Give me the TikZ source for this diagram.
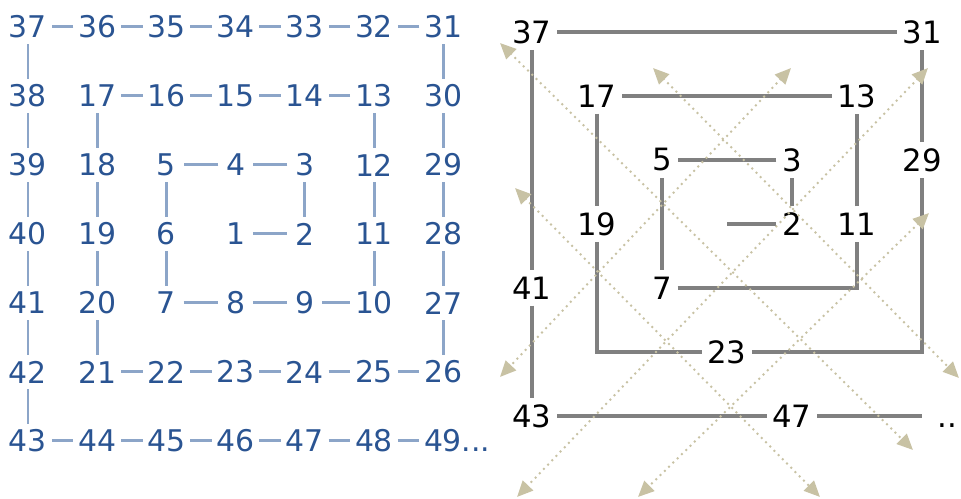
\documentclass[tikz,border=0pt]{standalone}
\usepackage{fontspec}
\setmainfont{DejaVu Sans}
\usetikzlibrary{arrows.meta}
\definecolor{SpiralBlue}{RGB}{42,84,146}
\definecolor{LinkBlue}{RGB}{140,165,200}
\definecolor{PathGray}{RGB}{128,128,128}
\definecolor{DiagTan}{RGB}{200,194,164}

\begin{document}
\begin{tikzpicture}[x=0.02cm,y=-0.02cm,
num/.style={text=SpiralBlue,inner xsep=0.09cm,inner ysep=0.06cm,minimum width=0.68cm,minimum height=0.68cm,font=\fontsize{17}{20}\selectfont},
link/.style={draw=LinkBlue,line width=0.06cm},
prime/.style={inner xsep=0.11cm,inner ysep=0.12cm,font=\fontsize{17.5}{20}\selectfont},
spir/.style={draw=PathGray,line width=0.065cm},
diag/.style={{Triangle[length=0.32cm,width=0.28cm]}-{Triangle[length=0.32cm,width=0.28cm]},draw=DiagTan,line width=0.055cm,line cap=round,dash pattern=on 0pt off 0.12cm}
]
\useasboundingbox (0,0) rectangle (961,499);
% numbers on the spiral
\foreach \row [count=\r from 0] in {{37,36,35,34,33,32,31},{38,17,16,15,14,13,30},{39,18,5,4,3,12,29},{40,19,6,1,2,11,28},{41,20,7,8,9,10,27},{42,21,22,23,24,25,26},{43,44,45,46,47,48}}
  \foreach \n [count=\c from 0] in \row
    \node[num] (l\n) at ({28+69.2*\c},{27+69*\r}) {\n};
\node[num] (l49) at (443,441) {49\rlap{...}};
\foreach \i [evaluate=\i as \j using int(\i+1)] in {1,...,48}
  \draw[link] (l\i) -- (l\j);
% primes only
\foreach \n/\c/\r in {2/4/3,3/4/2,5/2/2,7/2/4,11/5/3,13/5/1,17/1/1,19/1/3,23/3/5,29/6/2,31/6/0,37/0/0,41/0/4,43/0/6,47/4/6}
  \node[prime] (p\n) at ({532+65*\c},{32+64*\r}) {\n};
\coordinate (s) at (727,224);
\coordinate (c10) at (857,288);
\coordinate (c21) at (597,352);
\coordinate (c26) at (922,352);
\coordinate (c49) at (922,416);
\node[prime,inner sep=0,anchor=base west] (more) at (937,428) {..};
\draw[spir] (s) -- (p2);
\draw[spir] (p2) -- (p3);
\draw[spir] (p3) -- (p5);
\draw[spir] (p5) -- (p7);
\draw[spir] (p7) -- (c10) -- (p11);
\draw[spir] (p11) -- (p13);
\draw[spir] (p13) -- (p17);
\draw[spir] (p17) -- (p19);
\draw[spir] (p19) -- (c21) -- (p23);
\draw[spir] (p23) -- (c26) -- (p29);
\draw[spir] (p29) -- (p31);
\draw[spir] (p31) -- (p37);
\draw[spir] (p37) -- (p41);
\draw[spir] (p41) -- (p43);
\draw[spir] (p43) -- (p47);
\draw[spir] (p47) -- (c49);
% diagonals
\coordinate (a1) at (500,43);  \coordinate (b1) at (913,450);
\coordinate (a2) at (653,68);  \coordinate (b2) at (959,378);
\coordinate (a3) at (515,188); \coordinate (b3) at (820,497);
\coordinate (a4) at (791,68);  \coordinate (b4) at (500,377);
\coordinate (a5) at (928,68);  \coordinate (b5) at (517,497);
\coordinate (a6) at (929,213); \coordinate (b6) at (638,497);
\foreach \k in {1,...,6}
  \draw[diag] (a\k) -- (b\k);
\end{tikzpicture}
\end{document}
